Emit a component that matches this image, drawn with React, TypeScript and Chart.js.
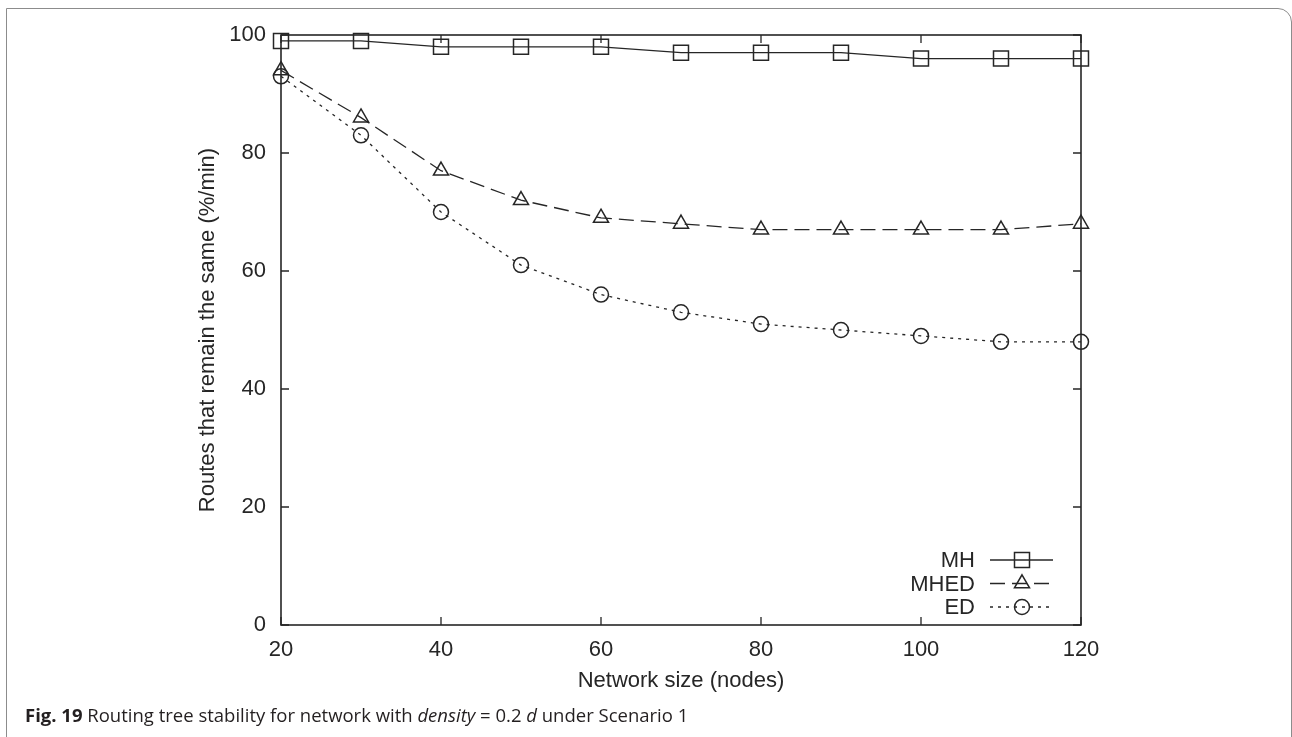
import React, { useEffect, useRef } from "react";
import { Chart, registerables } from "chart.js";

Chart.register(...registerables);

const networkSizes = [20, 30, 40, 50, 60, 70, 80, 90, 100, 110, 120];
const mhValues = [99, 99, 98, 98, 98, 97, 97, 97, 96, 96, 96];
const mhedValues = [94, 86, 77, 72, 69, 68, 67, 67, 67, 67, 68];
const edValues = [93, 83, 70, 61, 56, 53, 51, 50, 49, 48, 48];
const seriesLabels = ["MH", "MHED", "ED"];
const xTickValues = [20, 40, 60, 80, 100, 120];
const yTickValues = [0, 20, 40, 60, 80, 100];

const INK = "#262626";
const FONT = "'Liberation Sans', Arial, Helvetica, sans-serif";

function drawMarker(ctx: CanvasRenderingContext2D, style: string, x: number, y: number) {
  ctx.beginPath();
  if (style === "rect") {
    ctx.rect(x - 7.5, y - 7.5, 15, 15);
  } else if (style === "triangle") {
    const r = 8.7;
    ctx.moveTo(x, y - r);
    ctx.lineTo(x + r * Math.sin(Math.PI / 3), y + r / 2);
    ctx.lineTo(x - r * Math.sin(Math.PI / 3), y + r / 2);
    ctx.closePath();
  } else {
    ctx.arc(x, y, 7.5, 0, Math.PI * 2);
  }
  ctx.stroke();
}

const framePlugin = {
  id: "gnuplotFrame",
  afterDatasetsDraw(chart: any) {
    const { ctx, chartArea } = chart;
    const { left, right, top, bottom } = chartArea;
    const xs = chart.scales.x;
    const ys = chart.scales.y;
    ctx.save();
    ctx.strokeStyle = INK;
    ctx.lineWidth = 1.6;
    ctx.setLineDash([]);
    ctx.strokeRect(left, top, right - left, bottom - top);
    ctx.lineWidth = 1.3;
    const tl = 8;
    ctx.beginPath();
    for (const v of yTickValues) {
      const py = ys.getPixelForValue(v);
      ctx.moveTo(left, py);
      ctx.lineTo(left + tl, py);
      ctx.moveTo(right, py);
      ctx.lineTo(right - tl, py);
    }
    for (const v of xTickValues) {
      const px = xs.getPixelForValue(v);
      ctx.moveTo(px, bottom);
      ctx.lineTo(px, bottom - tl);
      ctx.moveTo(px, top);
      ctx.lineTo(px, top + tl);
    }
    ctx.stroke();

    // legend
    ctx.font = `22px ${FONT}`;
    ctx.fillStyle = INK;
    ctx.textAlign = "right";
    ctx.textBaseline = "middle";
    const textRight = right - 106;
    const lineStart = right - 91;
    const lineEnd = right - 28;
    const markX = right - 59;
    chart.data.datasets.forEach((ds: any, i: number) => {
      const y = bottom - 65 + i * 23.5;
      ctx.fillText(ds.label, textRight, y + 1);
      ctx.lineWidth = 1.3;
      ctx.setLineDash(ds.borderDash || []);
      ctx.beginPath();
      ctx.moveTo(lineStart, y);
      ctx.lineTo(lineEnd, y);
      ctx.stroke();
      ctx.setLineDash([]);
      ctx.lineWidth = 1.5;
      drawMarker(ctx, ds.pointStyle, markX, y);
    });
    ctx.restore();
  },
};

export default function App() {
  const canvasRef = useRef<HTMLCanvasElement | null>(null);

  useEffect(() => {
    const canvas = canvasRef.current;
    if (!canvas) return;
    const toPoints = (vals: number[]) => vals.map((v, i) => ({ x: networkSizes[i], y: v }));
    const common = {
      borderColor: INK,
      borderWidth: 1.3,
      pointBorderColor: INK,
      pointBackgroundColor: "rgba(0,0,0,0)",
      pointBorderWidth: 1.5,
      fill: false,
      tension: 0,
      clip: false as any,
    };
    const chart = new Chart(canvas, {
      type: "line",
      data: {
        datasets: [
          { ...common, label: seriesLabels[0], data: toPoints(mhValues), pointStyle: "rect", pointRadius: 10.6, borderDash: [] },
          { ...common, label: seriesLabels[1], data: toPoints(mhedValues), pointStyle: "triangle", pointRadius: 8.7, borderDash: [15, 7] },
          { ...common, label: seriesLabels[2], data: toPoints(edValues), pointStyle: "circle", pointRadius: 7.5, borderDash: [3, 5] },
        ] as any,
      },
      options: {
        responsive: false,
        animation: false,
        devicePixelRatio: 1,
        layout: { padding: { left: 191, right: 211, top: 35, bottom: 39 } },
        plugins: { legend: { display: false }, tooltip: { enabled: false } },
        scales: {
          x: {
            type: "linear",
            min: 20,
            max: 120,
            afterBuildTicks: (s: any) => {
              s.ticks = xTickValues.map((v) => ({ value: v }));
            },
            afterFit: (s: any) => {
              s.height = 73;
            },
            ticks: { font: { size: 22, family: FONT }, color: INK, padding: 12, maxRotation: 0 },
            grid: { display: false, drawTicks: false },
            border: { display: false },
            title: {
              display: true,
              text: "Network size (nodes)",
              font: { size: 22, family: FONT },
              color: INK,
              padding: { top: 4, bottom: 4 },
            },
          },
          y: {
            type: "linear",
            min: 0,
            max: 100,
            afterBuildTicks: (s: any) => {
              s.ticks = yTickValues.map((v) => ({ value: v }));
            },
            afterFit: (s: any) => {
              s.width = 90;
            },
            ticks: { font: { size: 22, family: FONT }, color: INK, padding: 15 },
            grid: { display: false, drawTicks: false },
            border: { display: false },
            title: {
              display: true,
              text: "Routes that remain the same (%/min)",
              font: { size: 22, family: FONT },
              color: INK,
              padding: { top: 4, bottom: 4 },
            },
          },
        },
      } as any,
      plugins: [framePlugin],
    });
    return () => chart.destroy();
  }, []);

  return (
    <div
      style={{
        position: "fixed",
        left: 0,
        top: 0,
        width: 1292,
        height: 737,
        background: "#fff",
        overflow: "hidden",
      }}
    >
      <div
        style={{
          position: "absolute",
          left: 6,
          top: 8,
          width: 1286,
          height: 800,
          boxSizing: "border-box",
          border: "1.6px solid #8c8c8c",
          borderTopRightRadius: 14,
        }}
      />
      <canvas
        ref={canvasRef}
        width={1292}
        height={737}
        style={{ position: "absolute", left: 0, top: 0, width: 1292, height: 737 }}
      />
      <div
        style={{
          position: "absolute",
          left: 25,
          top: 703,
          fontFamily: "'Open Sans', 'Noto Sans', sans-serif",
          fontSize: 18.5,
          color: "#231f20",
          whiteSpace: "nowrap",
          lineHeight: "24px",
        }}
      >
        <b>Fig. 19</b> Routing tree stability for network with <i>density</i> = 0.2 <i>d</i> under Scenario 1
      </div>
    </div>
  );
}
